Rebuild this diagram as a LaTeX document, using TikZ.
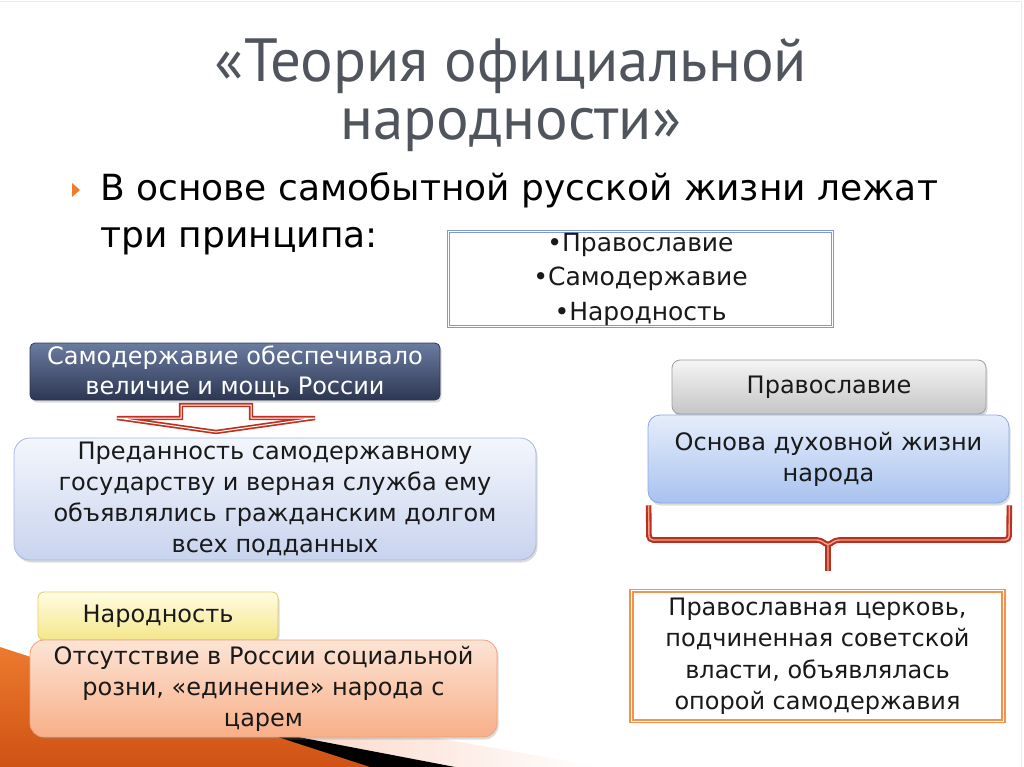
\documentclass[tikz,border=0pt]{standalone}
\usepackage{fontspec}
\setmainfont{DejaVu Sans}
\newfontfamily\titlefont{PT Sans}
\usetikzlibrary{calc, shadows}
\definecolor{titlegray}{HTML}{50555D}
\definecolor{bulletorange}{HTML}{F07D2C}
\definecolor{princblue}{HTML}{7D9BD2}
\definecolor{autotop}{HTML}{6B7BA1}
\definecolor{autobottom}{HTML}{2D3752}
\definecolor{arrowred}{HTML}{C0301E}
\definecolor{loyaltop}{HTML}{F3F6FC}
\definecolor{loyalbottom}{HTML}{C8D3EE}
\definecolor{loyalline}{HTML}{A9B8DC}
\definecolor{narodtop}{HTML}{FFFDE2}
\definecolor{narodbottom}{HTML}{F4E68A}
\definecolor{narodline}{HTML}{E3CC66}
\definecolor{unitytop}{HTML}{FDE4D5}
\definecolor{unitybottom}{HTML}{F8AF88}
\definecolor{unityline}{HTML}{EBA27F}
\definecolor{orthtop}{HTML}{F5F5F5}
\definecolor{orthbottom}{HTML}{C5C5C5}
\definecolor{orthline}{HTML}{9E9E9E}
\definecolor{basistop}{HTML}{E6EDFB}
\definecolor{basisbottom}{HTML}{A8C2EF}
\definecolor{basisline}{HTML}{8DA9DE}
\definecolor{bracered}{HTML}{B8301F}
\definecolor{bracepink}{HTML}{F2A48E}
\definecolor{churchorange}{HTML}{F4914A}
\definecolor{wedgepink}{HTML}{F6B496}
\definecolor{wedgeorange}{HTML}{EC7A2E}
\definecolor{wedgedark}{HTML}{CF5214}
\tikzset{
  softshadow/.style={drop shadow={opacity=0.28, shadow xshift=1.5pt, shadow yshift=-2.5pt}},
  boxtext/.style={align=center, inner sep=0pt, text=black!90, font=\fontsize{24}{31}\selectfont},
  panel/.style={boxtext, softshadow, line width=0.8pt},
}

\begin{document}
\begin{tikzpicture}[x=1pt, y=-1pt]
        \useasboundingbox (0,0) rectangle (1024,767);
        \fill[white] (0,0) rectangle (1024,767);
        \draw[black!8, line width=1.5pt] (0,1.5) -- (1021.5,1.5) -- (1021.5,767);

        \shade[left color=wedgepink, right color=white] (0,660) -- (600,767) -- (0,767) -- cycle;
        \fill[black] (0,680) -- (455,767) -- (0,767) -- cycle;
        \shade[top color=wedgeorange, bottom color=wedgedark] (0,647) -- (370,767) -- (0,767) -- cycle;

        \node[titlegray, align=center, inner sep=0pt, font=\titlefont\fontsize{61}{58}\selectfont] (title) at (511,95) {«Теория официальной\\народности»};

        \fill[bulletorange] (72,183) -- (80,190) -- (72,197) -- cycle;
        \node[anchor=north west, align=left, inner sep=0pt, font=\fontsize{36}{47}\selectfont] (intro) at (100,172) {В основе самобытной русской жизни лежат\\три принципа:};

        \node[boxtext, draw=princblue, line width=3.4pt, minimum width=384, minimum height=95, font=\fontsize{25}{34.5}\selectfont] (princ) at (640.5,279) {•Православие\\•Самодержавие\\•Народность};
        \draw[white, line width=0.8pt] ($(princ.south west)+(1.4,-1.4)$) rectangle ($(princ.north east)+(-1.4,1.4)$);

        \node[panel, rounded corners=5pt, minimum width=410, minimum height=57, top color=autotop, bottom color=autobottom, draw=autobottom, text=white, font=\fontsize{24}{30}\selectfont] (autocr) at (235,371.5) {Самодержавие обеспечивало\\величие и мощь России};

        \draw[arrowred, line width=1.7pt, double=white, double distance=1pt] (181,405) -- (251,405) -- (251,418) -- (315,418) -- (216,432) -- (117,418) -- (181,418) -- cycle;

        \node[panel, rounded corners=16pt, minimum width=522, minimum height=122, top color=loyaltop, bottom color=loyalbottom, draw=loyalline] (loyal) at (275,499) {Преданность самодержавному\\государству и верная служба ему\\объявлялись гражданским долгом\\всех подданных};

        \node[panel, rounded corners=6pt, minimum width=240, minimum height=48, top color=narodtop, bottom color=narodbottom, draw=narodline] (narod) at (158,616) {Народность};
        \node[panel, rounded corners=14pt, minimum width=467, minimum height=97, top color=unitytop, bottom color=unitybottom, draw=unityline] (unity) at (263.5,688.5) {Отсутствие в России социальной\\розни, «единение» народа с\\царем};

        \node[panel, rounded corners=8pt, minimum width=314, minimum height=54, top color=orthtop, bottom color=orthbottom, draw=orthline] (orth) at (829,387) {Православие};
        \node[panel, rounded corners=12pt, minimum width=361, minimum height=88, top color=basistop, bottom color=basisbottom, draw=basisline] (basis) at (828.5,459) {Основа духовной жизни\\народа};

        \node[boxtext, draw=churchorange, line width=4.2pt, fill=white, minimum width=372, minimum height=130, font=\fontsize{24}{31.5}\selectfont] (church) at (817.5,656) {Православная церковь,\\подчиненная советской\\власти, объявлялась\\опорой самодержавия};
        \draw[white, line width=0.9pt] ($(church.south west)+(1.8,-1.8)$) rectangle ($(church.north east)+(-1.8,1.8)$);

        \coordinate (bracetip) at ($(church.north)+(10.5,-18)$);
        \foreach \col/\wd in {bracered/5.6pt, bracepink/1.4pt}
          \draw[\col, line width=\wd, rounded corners=4pt] ($(basis.south west)+(1,2)$) -- (649,540) -- (821,540) -- (828,546) -- (835,540) -- (1009,540) -- ($(basis.south east)+(0,2)$)
            (828,545) -- (bracetip);
    \end{tikzpicture}
\end{document}
